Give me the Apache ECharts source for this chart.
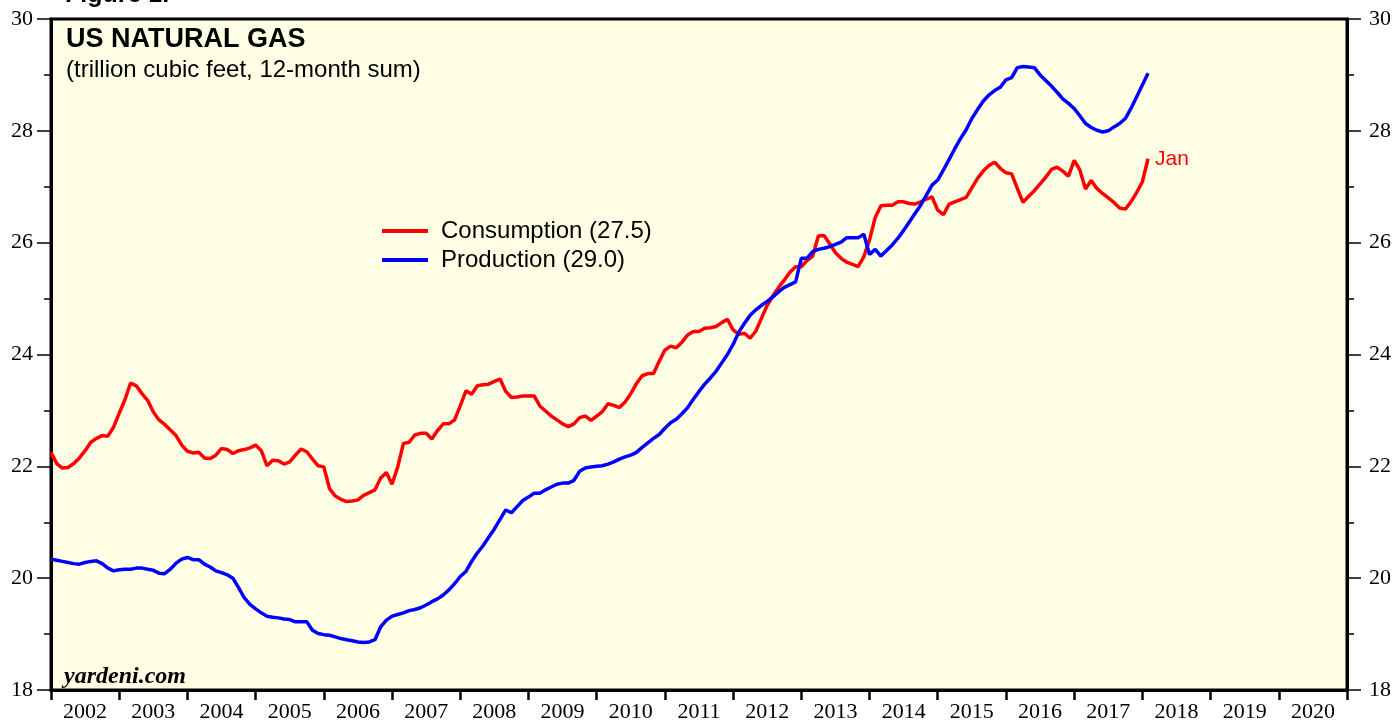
<!DOCTYPE html>
<html>
<head>
<meta charset="utf-8">
<script src="https://cdn.jsdelivr.net/npm/echarts@6/dist/echarts.min.js"></script>
<style>
  html, body { margin: 0; padding: 0; background: #fff; }
  #chart { width: 1395px; height: 721px; }
</style>
</head>
<body>
<div id="chart"></div>
<script>
// year labels shown between the ticks
const years = ['2002', '2003', '2004', '2005', '2006', '2007', '2008', '2009', '2010',
  '2011', '2012', '2013', '2014', '2015', '2016', '2017', '2018', '2019', '2020'];

// monthly 12-month sums, plotted at month end; first value = Dec 2001, last = Jan 2018
const startYear = 2002;
const consumption = [
  22.25, 22.05, 21.97, 21.98, 22.05, 22.15, 22.28, 22.43, 22.50, 22.55, 22.54, 22.70,
  22.95, 23.19, 23.49, 23.44, 23.30, 23.18, 22.97, 22.83, 22.75, 22.65, 22.55, 22.38,
  22.27, 22.24, 22.25, 22.15, 22.14, 22.20, 22.32, 22.30, 22.23, 22.28, 22.30, 22.33,
  22.38, 22.28, 22.01, 22.11, 22.10, 22.04, 22.08, 22.20, 22.31, 22.26, 22.13, 22.01,
  21.99, 21.60, 21.47, 21.41, 21.37, 21.38, 21.40, 21.48, 21.53, 21.58, 21.79, 21.89,
  21.68, 21.99, 22.41, 22.43, 22.56, 22.59, 22.59, 22.49, 22.64, 22.76, 22.76, 22.83,
  23.08, 23.35, 23.29, 23.44, 23.46, 23.47, 23.52, 23.56, 23.34, 23.23, 23.24, 23.26,
  23.26, 23.26, 23.08, 22.99, 22.90, 22.83, 22.76, 22.71, 22.76, 22.87, 22.90, 22.82,
  22.90, 22.98, 23.12, 23.09, 23.05, 23.15, 23.30, 23.48, 23.62, 23.66, 23.66, 23.88,
  24.08, 24.15, 24.12, 24.22, 24.35, 24.41, 24.41, 24.47, 24.48, 24.50, 24.57, 24.63,
  24.44, 24.36, 24.38, 24.29, 24.42, 24.65, 24.88, 25.05, 25.20, 25.33, 25.47, 25.57,
  25.57, 25.68, 25.76, 26.12, 26.13, 25.98, 25.82, 25.72, 25.65, 25.61, 25.57, 25.75,
  26.05, 26.45, 26.66, 26.67, 26.67, 26.73, 26.73, 26.70, 26.69, 26.73, 26.78, 26.82,
  26.58, 26.50, 26.69, 26.73, 26.77, 26.81, 26.98, 27.15, 27.28, 27.38, 27.44, 27.33,
  27.25, 27.23, 26.97, 26.72, 26.83, 26.93, 27.05, 27.17, 27.31, 27.35, 27.28, 27.19,
  27.47, 27.30, 26.96, 27.11, 26.97, 26.88, 26.80, 26.72, 26.62, 26.60, 26.73, 26.90,
  27.09, 27.50
];
const production = [
  20.34, 20.32, 20.30, 20.28, 20.26, 20.25, 20.28, 20.30, 20.31, 20.26, 20.18, 20.13,
  20.15, 20.16, 20.16, 20.18, 20.18, 20.16, 20.14, 20.09, 20.08, 20.16, 20.27, 20.34,
  20.37, 20.33, 20.33, 20.25, 20.20, 20.13, 20.10, 20.06, 20.00, 19.83, 19.65, 19.53,
  19.45, 19.38, 19.32, 19.30, 19.29, 19.27, 19.26, 19.22, 19.22, 19.22, 19.07, 19.01,
  18.99, 18.98, 18.95, 18.92, 18.90, 18.88, 18.86, 18.85, 18.86, 18.90, 19.13, 19.25,
  19.32, 19.35, 19.38, 19.42, 19.44, 19.47, 19.52, 19.58, 19.63, 19.70, 19.79, 19.90,
  20.03, 20.12, 20.30, 20.45, 20.58, 20.73, 20.88, 21.05, 21.22, 21.17, 21.28, 21.39,
  21.45, 21.52, 21.52, 21.58, 21.63, 21.68, 21.70, 21.70, 21.75, 21.91, 21.97, 21.99,
  22.00, 22.01, 22.04, 22.08, 22.13, 22.17, 22.20, 22.25, 22.34, 22.42, 22.50, 22.57,
  22.68, 22.78, 22.84, 22.94, 23.05, 23.20, 23.34, 23.47, 23.58, 23.70, 23.85, 24.00,
  24.18, 24.40, 24.56, 24.70, 24.80, 24.88, 24.95, 25.03, 25.12, 25.20, 25.25, 25.30,
  25.72, 25.72, 25.84, 25.88, 25.90, 25.93, 25.97, 26.01, 26.09, 26.09, 26.09, 26.15,
  25.79, 25.88, 25.76, 25.86, 25.96, 26.08, 26.22, 26.37, 26.52, 26.67, 26.85, 27.03,
  27.12, 27.30, 27.49, 27.68, 27.86, 28.02, 28.22, 28.38, 28.53, 28.64, 28.72, 28.78,
  28.91, 28.95, 29.13, 29.15, 29.14, 29.13, 29.00, 28.90, 28.80, 28.69, 28.57, 28.49,
  28.40, 28.27, 28.13, 28.06, 28.01, 27.98, 28.00, 28.07, 28.13, 28.22, 28.40, 28.61,
  28.82, 29.03
];

const chart = echarts.init(document.getElementById('chart'));
const toPoints = arr => arr.map((v, i) => [startYear + i / 12, v]);
const serif = 'Liberation Serif';
const sans = 'Liberation Sans';

const yAxisBase = {
  type: 'value',
  min: 18,
  max: 30,
  interval: 2,
  axisLine: { show: true, lineStyle: { color: '#000', width: 3 } },
  axisTick: { show: true, length: 14, lineStyle: { color: '#000', width: 1.5 } },
  minorTick: { show: true, splitNumber: 2, length: 7, lineStyle: { color: '#000', width: 1.5 } },
  splitLine: { show: false }
};

chart.setOption({
  animation: false,
  backgroundColor: '#fff',
  grid: {
    left: 51, right: 48, top: 19, bottom: 31,
    outerBoundsMode: 'none',
    containLabel: false,
    show: true, backgroundColor: '#FFFFE5', borderColor: '#000', borderWidth: 3
  },
  legend: {
    orient: 'vertical',
    left: 382,
    top: 219,
    padding: 0,
    itemGap: 5,
    itemWidth: 46,
    itemHeight: 4,
    icon: 'rect',
    selectedMode: false,
    textStyle: { fontFamily: sans, fontSize: 24, lineHeight: 24, color: '#000', padding: [0, 0, 0, 8] },
    data: ['Consumption (27.5)', 'Production (29.0)']
  },
  graphic: [
    { type: 'text', left: 65, top: -17, style: { text: 'Figure 1.', font: 'bold 25px "Liberation Sans"', fill: '#000' } },
    { type: 'text', left: 66, top: 26, style: { text: 'US NATURAL GAS', font: 'bold 27px "Liberation Sans"', fill: '#000' } },
    { type: 'text', left: 66, top: 58, style: { text: '(trillion cubic feet, 12-month sum)', font: '24px "Liberation Sans"', fill: '#000' } },
    { type: 'text', left: 64, top: 665, style: { text: 'yardeni.com', font: 'italic bold 24px "Liberation Serif"', fill: '#000' } }
  ],
  xAxis: [
    {
      type: 'value',
      min: 2002,
      max: 2021,
      interval: 1,
      axisLine: { lineStyle: { color: '#000', width: 3 } },
      axisTick: { length: 10, lineStyle: { color: '#000', width: 2.5 } },
      axisLabel: { show: false },
      splitLine: { show: false }
    },
    {
      type: 'category',
      data: years,
      position: 'bottom',
      boundaryGap: true,
      axisLine: { show: false },
      axisTick: { show: false },
      axisLabel: { fontFamily: serif, fontSize: 22, color: '#000', margin: 11 }
    }
  ],
  yAxis: [
    Object.assign({}, yAxisBase, {
      position: 'left',
      axisLabel: { fontFamily: serif, fontSize: 22, color: '#000', margin: 18 }
    }),
    Object.assign({}, yAxisBase, {
      position: 'right',
      axisLabel: { fontFamily: serif, fontSize: 22, color: '#000', margin: 22 }
    })
  ],
  series: [
    {
      name: 'Consumption (27.5)',
      type: 'line',
      xAxisIndex: 0,
      yAxisIndex: 0,
      data: toPoints(consumption),
      showSymbol: false,
      color: '#FF0000',
      lineStyle: { color: '#FF0000', width: 3.5 },
      endLabel: { show: true, formatter: 'Jan', color: '#FF0000', fontFamily: sans, fontSize: 21, distance: 7 }
    },
    {
      name: 'Production (29.0)',
      type: 'line',
      xAxisIndex: 0,
      yAxisIndex: 0,
      data: toPoints(production),
      showSymbol: false,
      color: '#0000FF',
      lineStyle: { color: '#0000FF', width: 3.5 }
    }
  ]
});
</script>
</body>
</html>
